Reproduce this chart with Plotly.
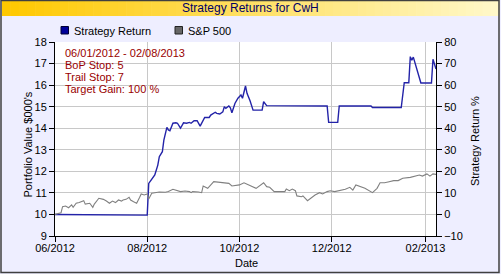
import plotly.graph_objects as go

# ---------------- data ----------------
strat_dates = ["2012-06-01","2012-06-14","2012-06-15","2012-08-01","2012-08-02","2012-08-06",
    "2012-08-08","2012-08-09","2012-08-11","2012-08-12","2012-08-14","2012-08-15","2012-08-16",
    "2012-08-18","2012-08-20","2012-08-21","2012-08-23","2012-08-25","2012-08-27","2012-08-29",
    "2012-08-30","2012-09-01","2012-09-03","2012-09-05","2012-09-08","2012-09-11","2012-09-12",
    "2012-09-14","2012-09-15","2012-09-16","2012-09-18","2012-09-20","2012-09-21","2012-09-22",
    "2012-09-24","2012-09-25","2012-09-26","2012-09-28","2012-09-30","2012-10-02","2012-10-03",
    "2012-10-05","2012-10-06","2012-10-08","2012-10-10","2012-10-16","2012-10-17","2012-10-19",
    "2012-11-28","2012-11-29","2012-12-05","2012-12-06","2012-12-27","2012-12-28","2013-01-16",
    "2013-01-18","2013-01-21","2013-01-22","2013-01-23","2013-01-24","2013-01-29","2013-02-05",
    "2013-02-06","2013-02-08"]
strat_values = [10.00,10.00,9.97,9.97,11.44,11.83,
    12.29,12.68,12.91,13.45,14.04,13.92,13.88,
    14.23,14.25,14.23,14.00,14.25,14.23,14.27,
    14.23,14.35,14.35,14.10,14.50,14.50,14.61,
    14.69,14.74,14.69,14.66,14.76,15.00,14.92,
    15.03,14.95,14.72,15.15,15.39,15.54,15.39,
    15.96,15.62,15.27,14.84,14.84,15.23,15.05,
    15.03,14.27,14.27,15.03,15.03,14.96,14.96,
    16.11,16.11,17.32,17.15,17.30,16.10,16.10,
    17.20,16.75]

sp_dates = ["2012-06-01","2012-06-05","2012-06-06","2012-06-08","2012-06-10","2012-06-12",
    "2012-06-13","2012-06-15","2012-06-17","2012-06-19","2012-06-20","2012-06-21","2012-06-24",
    "2012-06-26","2012-06-27","2012-06-30","2012-07-03","2012-07-05","2012-07-07","2012-07-09",
    "2012-07-11","2012-07-13","2012-07-15","2012-07-16","2012-07-18","2012-07-20","2012-07-21",
    "2012-07-23","2012-07-25","2012-07-27","2012-07-28","2012-07-30","2012-08-01","2012-08-02",
    "2012-08-04","2012-08-06","2012-08-09","2012-08-13","2012-08-15","2012-08-18","2012-08-20",
    "2012-08-23","2012-08-26","2012-08-29","2012-08-30","2012-08-31","2012-09-04","2012-09-06",
    "2012-09-07","2012-09-10","2012-09-14","2012-09-19","2012-09-24","2012-09-26","2012-10-01",
    "2012-10-04","2012-10-07","2012-10-12","2012-10-17","2012-10-19","2012-10-21","2012-10-24",
    "2012-10-31","2012-11-01","2012-11-03","2012-11-05","2012-11-07","2012-11-08","2012-11-11",
    "2012-11-12","2012-11-15","2012-11-18","2012-11-20","2012-11-23","2012-11-25","2012-11-28",
    "2012-11-30","2012-12-03","2012-12-06","2012-12-10","2012-12-13","2012-12-15","2012-12-17",
    "2012-12-20","2012-12-23","2012-12-28","2012-12-31","2013-01-02","2013-01-05","2013-01-08",
    "2013-01-11","2013-01-14","2013-01-17","2013-01-22","2013-01-25","2013-01-28","2013-01-30",
    "2013-02-02","2013-02-04","2013-02-06","2013-02-08"]
sp_values = [0.0,0.8,3.6,3.9,3.1,4.4,
    3.3,5.2,5.5,5.9,6.4,4.8,5.2,
    3.3,4.8,7.5,7.0,6.2,5.2,6.2,
    5.5,6.7,6.2,6.7,7.0,8.0,6.7,
    5.9,5.2,8.0,9.5,9.0,9.5,7.2,
    9.8,10.1,10.4,10.3,10.6,11.7,11.3,
    10.6,10.9,10.6,10.1,10.6,10.4,10.1,
    13.2,12.1,15.2,14.7,14.4,13.2,13.7,
    14.7,13.7,12.1,14.7,12.9,12.6,10.6,
    10.6,11.8,11.0,11.8,11.0,8.6,8.2,
    8.6,6.4,8.2,9.0,10.1,9.5,10.6,
    11.0,10.6,11.0,11.7,12.6,11.3,13.7,
    12.9,12.1,10.1,12.1,14.7,14.7,15.2,
    15.7,15.7,16.8,17.2,17.8,18.3,17.8,
    18.8,17.8,18.8,18.6]

x_tick_vals = ["2012-06-01","2012-08-01","2012-10-01","2012-12-01","2013-02-01"]
x_tick_text = ["06/2012","08/2012","10/2012","12/2012","02/2013"]

title_text = "Strategy Returns for CwH"
legend_names = ["Strategy Return", "S&P 500"]
info_lines = ["06/01/2012 - 02/08/2013", "BoP Stop: 5", "Trail Stop: 7", "Target Gain: 100 %"]

# ---------------- layout helpers ----------------
W, H = 501, 274
ML, MR, MT, MB = 55, 65, 42, 38
PW, PH = W - ML - MR, H - MT - MB

def px(x):
    return (x - ML) / PW

def py(y):
    return (H - MB - y) / PH

FONT = "Liberation Sans, Arial, sans-serif"
BLUE = "#2323A8"
GRAY = "#808080"

fig = go.Figure()
fig.add_trace(go.Scatter(x=strat_dates, y=strat_values, mode="lines",
                         line=dict(color=BLUE, width=1.4), showlegend=False, yaxis="y"))
fig.add_trace(go.Scatter(x=sp_dates, y=sp_values, mode="lines",
                         line=dict(color=GRAY, width=1.1), showlegend=False, yaxis="y2"))

shapes = []
# title bar gradient
n = 60
x0, x1 = 2, 499
c0 = (255, 200, 0)
c1 = (255, 248, 200)
for i in range(n):
    t = i / (n - 1)
    col = "rgb(%d,%d,%d)" % tuple(round(a + (b - a) * t) for a, b in zip(c0, c1))
    xa = x0 + (x1 - x0) * i / n
    xb = x0 + (x1 - x0) * (i + 1) / n + 0.6
    shapes.append(dict(type="rect", xref="paper", yref="paper", x0=px(xa), x1=px(xb),
                       y0=py(16), y1=py(0), fillcolor=col, line=dict(width=0), layer="below"))
# outer border
shapes.append(dict(type="rect", xref="paper", yref="paper", x0=px(1), x1=px(499),
                   y0=py(272.5), y1=py(0.5), fillcolor="rgba(0,0,0,0)",
                   line=dict(color="#404040", width=1.5), layer="above"))
# legend squares
shapes.append(dict(type="rect", xref="paper", yref="paper", x0=px(61), x1=px(68.5),
                   y0=py(34), y1=py(26.5), fillcolor="#000099", line=dict(color="#000033", width=1)))
shapes.append(dict(type="rect", xref="paper", yref="paper", x0=px(175), x1=px(182.5),
                   y0=py(34), y1=py(26.5), fillcolor="#666666", line=dict(color="#222222", width=1)))

annotations = []
annotations.append(dict(text=title_text, xref="paper", yref="paper", x=px(250.5), y=py(8.5),
                        xanchor="center", yanchor="middle", showarrow=False,
                        font=dict(family=FONT, size=12, color="#000066")))
annotations.append(dict(text=legend_names[0], xref="paper", yref="paper", x=px(72), y=py(30.5),
                        xanchor="left", yanchor="middle", showarrow=False,
                        font=dict(family=FONT, size=11, color="black")))
annotations.append(dict(text=legend_names[1], xref="paper", yref="paper", x=px(186), y=py(30.5),
                        xanchor="left", yanchor="middle", showarrow=False,
                        font=dict(family=FONT, size=11, color="black")))
for i, line in enumerate(info_lines):
    annotations.append(dict(text=line, xref="paper", yref="paper", x=px(63), y=py(52.5 + 12 * i),
                            xanchor="left", yanchor="middle", showarrow=False,
                            font=dict(family=FONT, size=11, color="#990000")))
annotations.append(dict(text="Portfolio Value $000's", xref="paper", yref="paper", x=px(27.5), y=py(144),
                        xanchor="center", yanchor="middle", textangle=-90, showarrow=False,
                        font=dict(family=FONT, size=11, color="black")))
annotations.append(dict(text="Strategy Return %", xref="paper", yref="paper", x=px(475), y=py(141),
                        xanchor="center", yanchor="middle", textangle=-90, showarrow=False,
                        font=dict(family=FONT, size=11, color="black")))
annotations.append(dict(text="Date", xref="paper", yref="paper", x=px(246.5), y=py(263),
                        xanchor="center", yanchor="middle", showarrow=False,
                        font=dict(family=FONT, size=11, color="black")))

axis_common = dict(showline=True, linecolor="black", linewidth=1, ticks="outside", ticklen=5,
                   tickcolor="black", tickwidth=1, tickfont=dict(family=FONT, size=11, color="black"),
                   zeroline=False)

fig.update_layout(
    width=W, height=H, autosize=False,
    margin=dict(l=ML, r=MR, t=MT, b=MB, pad=0),
    paper_bgcolor="#EEEEFF", plot_bgcolor="white",
    showlegend=False,
    font=dict(family=FONT, size=11, color="black"),
    xaxis=dict(type="date", range=["2012-06-01", "2013-02-08"], tickvals=x_tick_vals,
               ticktext=x_tick_text, showgrid=True, gridcolor="#C8C8C8", gridwidth=1,
               mirror=False, ticklabelstandoff=-3, **axis_common),
    yaxis=dict(range=[9, 18], dtick=1, tick0=9, showgrid=True, gridcolor="#C8C8C8", gridwidth=1,
               **axis_common),
    yaxis2=dict(range=[-10, 80], dtick=10, tick0=-10, overlaying="y", side="right", showgrid=False,
                **axis_common),
    shapes=shapes,
    annotations=annotations,
)

fig.write_html("out.html", config={"displayModeBar": False})
